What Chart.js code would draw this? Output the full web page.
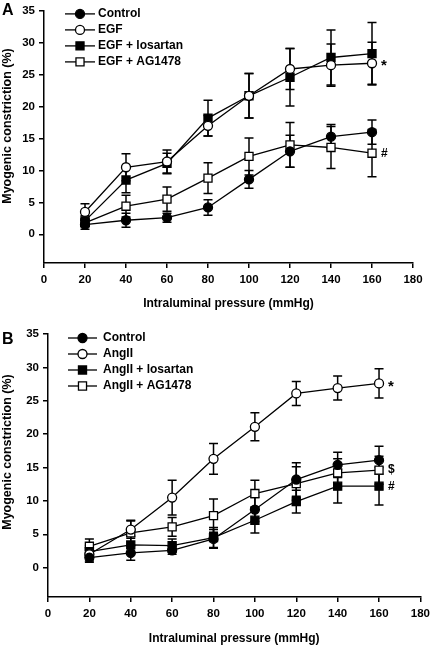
<!DOCTYPE html>
<html>
<head>
<meta charset="utf-8">
<script src="https://cdn.jsdelivr.net/npm/chart.js@4.4.1/dist/chart.umd.min.js"></script>
<style>
body { margin: 0; background: #fff; }
canvas { display: block; }
</style>
</head>
<body>
<canvas id="chartA" width="435" height="320"></canvas>
<canvas id="chartB" width="435" height="326"></canvas>
<script>
// data
const pressure = [20, 40, 60, 80, 100, 120, 140, 160];
const xTicks = [0, 20, 40, 60, 80, 100, 120, 140, 160, 180];
const yTicks = [0, 5, 10, 15, 20, 25, 30, 35];

// panel A
const labelsA = ['Control', 'EGF', 'EGF + losartan', 'EGF + AG1478'];
const controlA = [1.5, 2.2, 2.6, 4.2, 8.6, 13.0, 15.3, 16.0];
const controlAErr = [0.7, 1.1, 0.7, 1.2, 1.4, 2.5, 1.9, 1.9];
const egfA = [3.5, 10.5, 11.4, 17.0, 21.7, 25.9, 26.5, 26.8];
const egfAErr = [1.3, 2.1, 1.8, 1.6, 3.5, 3.2, 3.3, 3.3];
const losA = [2.1, 8.5, 11.1, 18.2, 21.7, 24.6, 27.7, 28.3];
const losAErr = [0.8, 2.0, 1.6, 2.8, 3.5, 4.5, 4.3, 4.9];
const agA = [1.8, 4.4, 5.5, 8.8, 12.2, 14.0, 13.6, 12.7];
const agAErr = [0.5, 1.7, 1.9, 2.4, 2.9, 3.5, 3.3, 3.7];
const marksA = ['', '*', '', '#'];

// panel B
const labelsB = ['Control', 'AngII', 'AngII + losartan', 'AngII + AG1478'];
const controlB = [1.5, 2.2, 2.6, 4.3, 8.7, 13.2, 15.4, 16.1];
const controlBErr = [0.7, 1.1, 0.6, 1.4, 1.8, 2.5, 1.9, 2.1];
const angB = [2.0, 5.7, 10.5, 16.3, 21.1, 26.1, 26.9, 27.6];
const angBErr = [1.0, 1.3, 2.6, 2.3, 2.1, 1.8, 1.8, 2.2];
const losB = [2.4, 3.4, 3.3, 4.5, 7.1, 9.9, 12.2, 12.2];
const losBErr = [0.9, 1.3, 1.0, 1.5, 1.9, 1.7, 2.5, 2.8];
const agB = [3.2, 5.2, 6.1, 7.8, 11.1, 12.6, 14.2, 14.6];
const agBErr = [1.1, 1.9, 1.4, 2.5, 2.0, 2.5, 2.1, 2.1];
const marksB = ['', '*', '#', '$'];

const FONT = "'Liberation Sans', Arial, sans-serif";
Chart.defaults.font.family = FONT;
Chart.defaults.color = '#000';

const styles = [
  { pointStyle: 'circle', fill: '#000', r: 4.5 },
  { pointStyle: 'circle', fill: '#fff', r: 4.5 },
  { pointStyle: 'rect', fill: '#000', r: 5.7 },
  { pointStyle: 'rect', fill: '#fff', r: 5.7 }
];

function makeSets(labels, vals, errs) {
  return labels.map((lab, i) => ({
    label: lab,
    data: pressure.map((p, j) => ({ x: p, y: vals[i][j] })),
    err: errs[i],
    borderColor: '#000',
    borderWidth: 1.3,
    pointStyle: styles[i].pointStyle,
    pointRadius: styles[i].r,
    pointBackgroundColor: styles[i].fill,
    pointBorderColor: '#000',
    pointBorderWidth: 1.3,
    tension: 0,
    fill: false
  }));
}

function drawMarker(ctx, st, x, y) {
  ctx.save();
  ctx.fillStyle = st.fill;
  ctx.strokeStyle = '#000';
  ctx.lineWidth = 1.3;
  ctx.beginPath();
  if (st.pointStyle == 'circle') {
    ctx.arc(x, y, st.r, 0, Math.PI * 2);
  } else {
    const s = st.r * Math.SQRT1_2;
    ctx.rect(x - s, y - s, 2 * s, 2 * s);
  }
  ctx.fill();
  ctx.stroke();
  ctx.restore();
}

// error bars, behind the markers
const errorBars = {
  id: 'errorBars',
  beforeDatasetsDraw(chart) {
    const ctx = chart.ctx, xs = chart.scales.x, ys = chart.scales.y;
    ctx.save();
    ctx.strokeStyle = '#000';
    ctx.lineWidth = 1.5;
    chart.data.datasets.forEach(ds => {
      ds.data.forEach((pt, j) => {
        const x = xs.getPixelForValue(pt.x);
        const y1 = ys.getPixelForValue(pt.y + ds.err[j]);
        const y2 = ys.getPixelForValue(pt.y - ds.err[j]);
        ctx.beginPath();
        ctx.moveTo(x, y1); ctx.lineTo(x, y2);
        ctx.moveTo(x - 4.5, y1); ctx.lineTo(x + 4.5, y1);
        ctx.moveTo(x - 4.5, y2); ctx.lineTo(x + 4.5, y2);
        ctx.stroke();
      });
    });
    ctx.restore();
  }
};

// panel letter, y title, legend and significance marks
const decor = {
  id: 'decor',
  afterDraw(chart, args, o) {
    const ctx = chart.ctx, area = chart.chartArea;
    const xs = chart.scales.x, ys = chart.scales.y;
    ctx.save();
    ctx.fillStyle = '#000';
    ctx.font = 'bold 16px ' + FONT;
    ctx.textBaseline = 'alphabetic';
    ctx.fillText(o.letter, 2, o.letterY);

    // y axis title
    ctx.save();
    ctx.translate(8, o.yTitleY);
    ctx.rotate(-Math.PI / 2);
    ctx.font = 'bold 12.5px ' + FONT;
    ctx.textAlign = 'center';
    ctx.textBaseline = 'middle';
    ctx.fillText('Myogenic constriction (%)', 0, 0);
    ctx.restore();

    ctx.font = 'bold 12px ' + FONT;
    ctx.textBaseline = 'middle';
    chart.data.datasets.forEach((ds, i) => {
      const y = area.top + o.legTop + i * 16;
      const x0 = area.left + o.lineStart, x1 = area.left + o.lineEnd;
      ctx.strokeStyle = '#000';
      ctx.lineWidth = 1.3;
      ctx.beginPath(); ctx.moveTo(x0, y); ctx.lineTo(x1, y); ctx.stroke();
      drawMarker(ctx, styles[i], (x0 + x1) / 2, y);
      ctx.fillText(ds.label, area.left + o.textStart, y);
    });

    chart.data.datasets.forEach((ds, i) => {
      const m = o.marks[i];
      if (!m) return;
      const last = ds.data[ds.data.length - 1];
      const x = xs.getPixelForValue(last.x) + 9;
      const y = ys.getPixelForValue(last.y);
      ctx.font = (m == '*' ? 'bold 15px ' : 'bold 12px ') + FONT;
      ctx.fillText(m, x, m == '*' ? y + 3 : y);
    });
    ctx.restore();
  }
};

function makeChart(id, labels, vals, errs, cfg) {
  new Chart(document.getElementById(id), {
    type: 'line',
    data: { datasets: makeSets(labels, vals, errs) },
    plugins: [errorBars, decor],
    options: {
      responsive: false,
      animation: false,
      layout: { padding: { left: 0, right: cfg.padRight, top: cfg.padTop, bottom: 0 } },
      plugins: {
        legend: { display: false },
        tooltip: { enabled: false },
        decor: cfg.decor
      },
      scales: {
        x: {
          type: 'linear',
          min: 0, max: 180,
          afterBuildTicks: s => { s.ticks = xTicks.map(v => ({ value: v })); },
          afterFit: s => { s.height = cfg.xHeight; },
          grid: { drawOnChartArea: false, drawTicks: true, tickLength: 5, color: '#000', lineWidth: 1.5 },
          border: { color: '#000', width: 1.5 },
          ticks: { font: { size: 11.5, weight: 'bold' }, padding: 5, maxRotation: 0 },
          title: {
            display: true, text: 'Intraluminal pressure (mmHg)',
            font: { size: 12, weight: 'bold' },
            padding: { top: 0, bottom: cfg.xTitlePad }
          }
        },
        y: {
          min: cfg.yMin, max: 35,
          afterBuildTicks: s => { s.ticks = yTicks.map(v => ({ value: v })); },
          afterFit: s => { s.width = cfg.yWidth; },
          grid: { drawOnChartArea: false, drawTicks: true, tickLength: 5, color: '#000', lineWidth: 1.5 },
          border: { color: '#000', width: 1.5 },
          ticks: { font: { size: 11.5, weight: 'bold' }, padding: 4 }
        }
      }
    }
  });
}

makeChart('chartA', labelsA,
  [controlA, egfA, losA, agA],
  [controlAErr, egfAErr, losAErr, agAErr],
  {
    padRight: 22, padTop: 5, xHeight: 57, xTitlePad: 9, yWidth: 44, yMin: -4.5,
    decor: { letter: 'A', letterY: 15, yTitleY: 126, marks: marksA, legTop: 3, lineStart: 21, lineEnd: 51, textStart: 54 }
  });

makeChart('chartB', labelsB,
  [controlB, angB, losB, agB],
  [controlBErr, angBErr, losBErr, agBErr],
  {
    padRight: 10, padTop: 14, xHeight: 49, xTitlePad: 0, yWidth: 48, yMin: -4.4,
    decor: { letter: 'B', letterY: 24, yTitleY: 132, marks: marksB, legTop: 4, lineStart: 20, lineEnd: 49, textStart: 55 }
  });
</script>
</body>
</html>
